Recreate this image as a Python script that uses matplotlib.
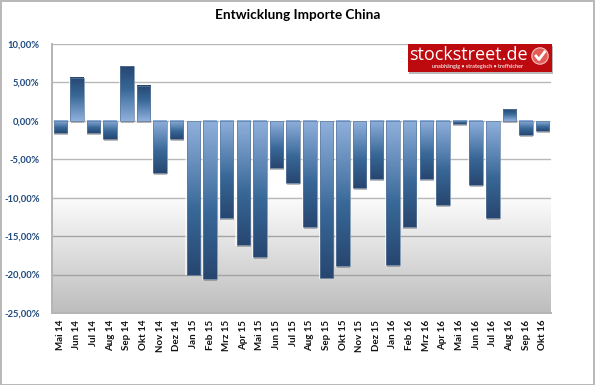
import numpy as np
import matplotlib
matplotlib.use("Agg")
import matplotlib.pyplot as plt
from matplotlib.colors import LinearSegmentedColormap
from matplotlib.lines import Line2D
from matplotlib.patches import Rectangle, Circle
from matplotlib.transforms import ScaledTranslation

plt.rcParams['font.family'] = ['Lato', 'DejaVu Sans']

months = ["Mai 14","Jun 14","Jul 14","Aug 14","Sep 14","Okt 14","Nov 14","Dez 14",
          "Jan 15","Feb 15","Mrz 15","Apr 15","Mai 15","Jun 15","Jul 15","Aug 15",
          "Sep 15","Okt 15","Nov 15","Dez 15","Jan 16","Feb 16","Mrz 16","Apr 16",
          "Mai 16","Jun 16","Jul 16","Aug 16","Sep 16","Okt 16"]
values = [-1.6,5.6,-1.6,-2.4,7.1,4.6,-6.8,-2.4,-20.0,-20.6,-12.7,-16.2,-17.7,-6.1,-8.1,-13.8,
          -20.4,-18.9,-8.7,-7.6,-18.8,-13.8,-7.6,-11.0,-0.4,-8.4,-12.6,1.5,-1.9,-1.3]
yticks = [10,5,0,-5,-10,-15,-20,-25]
title = "Entwicklung Importe China"

W, H = 595, 385
fig = plt.figure(figsize=(W/100, H/100), dpi=100, facecolor="white")
ax = fig.add_axes([52/W, 1-313/H, (551-52)/W, (313-44)/H])
ax.set_xlim(-0.5, len(values)-0.5)
ax.set_ylim(-25, 10)

# plot background gradient
stops = np.linspace(0, 1, 256).reshape(-1, 1)
bgmap = LinearSegmentedColormap.from_list("bg", [(0,"#ffffff"),(0.55,"#ffffff"),(1,"#bdbdbd")])
ax.imshow(stops, extent=(-0.5, len(values)-0.5, -25, 10), origin="upper", cmap=bgmap,
          aspect="auto", zorder=0, interpolation="bilinear")

for t in yticks:
    ax.axhline(t, color="#b8b8b8" if t > -15 else "#a4a4a4", lw=1.0, zorder=1)

cmap = LinearSegmentedColormap.from_list("bar", [(0,"#90b0dc"),(0.58,"#386898"),(1,"#274670")])
width = 0.81
shadow_tf = ax.transData + ScaledTranslation(0.4/72, -1.3/72, fig.dpi_scale_trans)
for i, v in enumerate(values):
    ax.add_patch(Rectangle((i-width/2-0.07, min(v,0)-0.12), width+0.14, abs(v)+0.24,
                           fc="white", ec="none", alpha=0.6, zorder=2))
    ax.add_patch(Rectangle((i-width/2, min(v,0)), width, abs(v), fc="#555555", ec="none",
                           alpha=0.4, zorder=2.5, transform=shadow_tf))
    g = np.linspace(0, 1, 128).reshape(-1, 1)   # 0 at zero line, 1 at far end
    if v < 0:
        ax.imshow(g, extent=(i-width/2, i+width/2, v, 0), origin="upper", cmap=cmap,
                  aspect="auto", zorder=3, interpolation="bilinear")
    else:
        ax.imshow(g, extent=(i-width/2, i+width/2, 0, v), origin="lower", cmap=cmap,
                  aspect="auto", zorder=3, interpolation="bilinear")
    ax.add_patch(Rectangle((i-width/2, min(v,0)), width, abs(v), fc="none", ec="#5f7c9e",
                           lw=0.5, zorder=3.5))
ax.set_xlim(-0.5, len(values)-0.5)
ax.set_ylim(-25, 10)

for s in ["top","right"]:
    ax.spines[s].set_visible(False)
for s in ["left","bottom"]:
    ax.spines[s].set_color("#b4b4b4")
    ax.spines[s].set_linewidth(1.4)
ax.set_yticks(yticks)
ax.set_yticklabels([f"{t:.2f}%".replace(".", ",") for t in yticks],
                   fontsize=6.8, fontweight="bold", color="#1f497d")
ax.set_xticks(range(len(months)))
ax.set_xticklabels(months, rotation=90, fontsize=7, fontweight="bold", color="#111111")
ax.tick_params(axis="both", length=0)
ax.tick_params(axis="y", pad=9)
ax.tick_params(axis="x", pad=5)

fig.text(298/W, 1-15/H, title, ha="center", va="center", fontsize=9.8,
         fontweight="bold", color="black")

# logo block
fig.add_artist(Rectangle((409/W, 1-74/H), 144/W, 28/H, transform=fig.transFigure,
                         fc="#777777", ec="none", alpha=0.5))
fig.add_artist(Rectangle((408/W, 1-72/H), 144/W, 28/H, transform=fig.transFigure,
                         fc="#bd0a0f", ec="none"))
fig.text(468/W, 1-55/H, "stockstreet.de", ha="center", va="center", fontsize=13,
         color="white", family=["Open Sans","DejaVu Sans"])
fig.text(478/W, 1-66.5/H, "unabhängig • strategisch • treffsicher", ha="center", va="center",
         fontsize=3.9, color="#f3d8d8", fontweight="bold")
cx, cy = 540, H-56
fig.add_artist(Circle((cx, cy), 8.2, transform=None, fc="#e35d58", ec="#f2c0bd", lw=0.8))
fig.add_artist(Line2D([(cx-4)/W, (cx-1)/W, (cx+4.5)/W], [(cy)/H, (cy-3.5)/H, (cy+4)/H],
                      transform=fig.transFigure, color="white", lw=2.0))

# outer frame
fig.add_artist(Rectangle((0.5/W, 0.5/H), (W-2)/W, (H-1.5)/H, transform=fig.transFigure,
                         fc="none", ec="#b8b8b8", lw=1.4))
fig.savefig("out.png", dpi=100, facecolor="white")
